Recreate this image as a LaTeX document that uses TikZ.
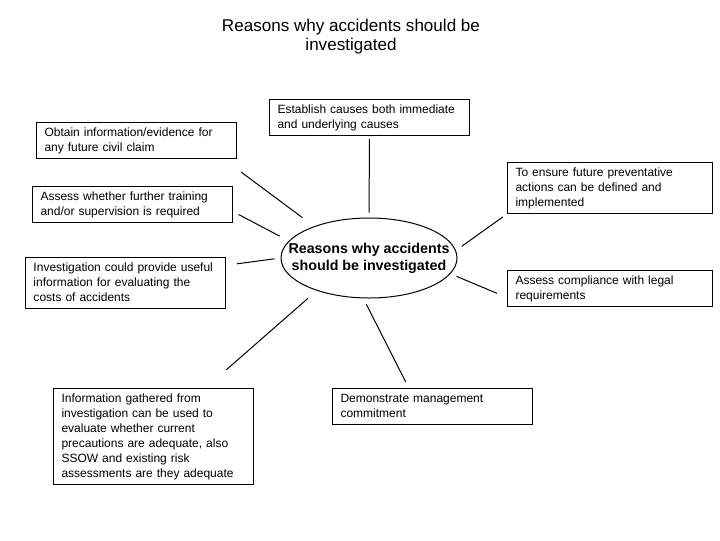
\documentclass[tikz,border=0pt]{standalone}
\usepackage{fontspec}
\setmainfont{Liberation Sans}
\usepackage{tikz}
\usetikzlibrary{shapes.geometric}
\tikzset{
    motivo/.style={
        rectangle,
        draw,
        line width=0.75pt,
        anchor=north west,
        align=left,
        inner xsep=6pt,
        inner ysep=2.25pt,
        text width=138pt,
        font=\fontsize{9}{11.25}\selectfont,
        execute at begin node=\strut,
        execute at end node=\strut
    },
    motivoLargo/.style={motivo, text width=141.75pt},
    centro/.style={
        ellipse,
        draw,
        line width=0.75pt,
        inner sep=0pt,
        minimum width=132pt,
        minimum height=60pt
    },
    raio/.style={line width=0.75pt}
}

\begin{document}
\begin{tikzpicture}[x=0.75pt, y=-0.75pt]
    \useasboundingbox (0,0) rectangle (720,540);

    \node[align=center, font=\fontsize{12.8}{14.25}\selectfont] (titulo) at (351,37)
    {Reasons why accidents should be\\investigated};

    \node[centro] (hub) at (369,258) {};
    \node[align=center, font=\fontsize{10.7}{12.75}\selectfont\bfseries] (hubtxt) at (hub.center)
    {Reasons why accidents\\should be investigated};

    \node[motivo] (est) at (269,99)
    {Establish causes both immediate\\and underlying causes};

    \node[motivo] (obtain) at (36,122)
    {Obtain information/evidence for\\any future civil claim};

    \node[motivoLargo] (ensure) at (507,162)
    {To ensure future preventative\\actions can be defined and\\implemented};

    \node[motivo] (train) at (32,186)
    {Assess whether further training\\and/or supervision is required};

    \node[motivo] (inv) at (25,257)
    {Investigation could provide useful\\information for evaluating the\\costs of accidents};

    \node[motivoLargo] (comp) at (507,270)
    {Assess compliance with legal\\requirements};

    \node[motivo] (info) at (53,388)
    {Information gathered from\\investigation can be used to\\evaluate whether current\\precautions are adequate, also\\SSOW and existing risk\\assessments are they adequate};

    \node[motivo] (dem) at (332,388)
    {Demonstrate management\\commitment};

    \draw[raio, shorten <=2.25pt, shorten >=3.75pt] (est.south) -- (hub.north);
    \draw[raio, shorten <=16.5pt, shorten >=10.8pt] (obtain.-12) -- (hub.150);
    \draw[raio, shorten <=4.7pt, shorten >=7.7pt] (train.-4) -- (hub.168);
    \draw[raio, shorten <=8.3pt, shorten >=4.5pt] (inv.10) -- (hub.180);
    \draw[raio, shorten <=20.8pt, shorten >=8.8pt] (info.43) -- (hub.212);
    \draw[raio, shorten <=5pt, shorten >=5pt] (dem.142) -- (hub.262);
    \draw[raio, shorten <=8.1pt, shorten >=4.9pt] (comp.185) -- (hub.-11);
    \draw[raio, shorten <=3.75pt, shorten >=5.5pt] (ensure.south west) -- (hub.5);

\end{tikzpicture}
\end{document}
